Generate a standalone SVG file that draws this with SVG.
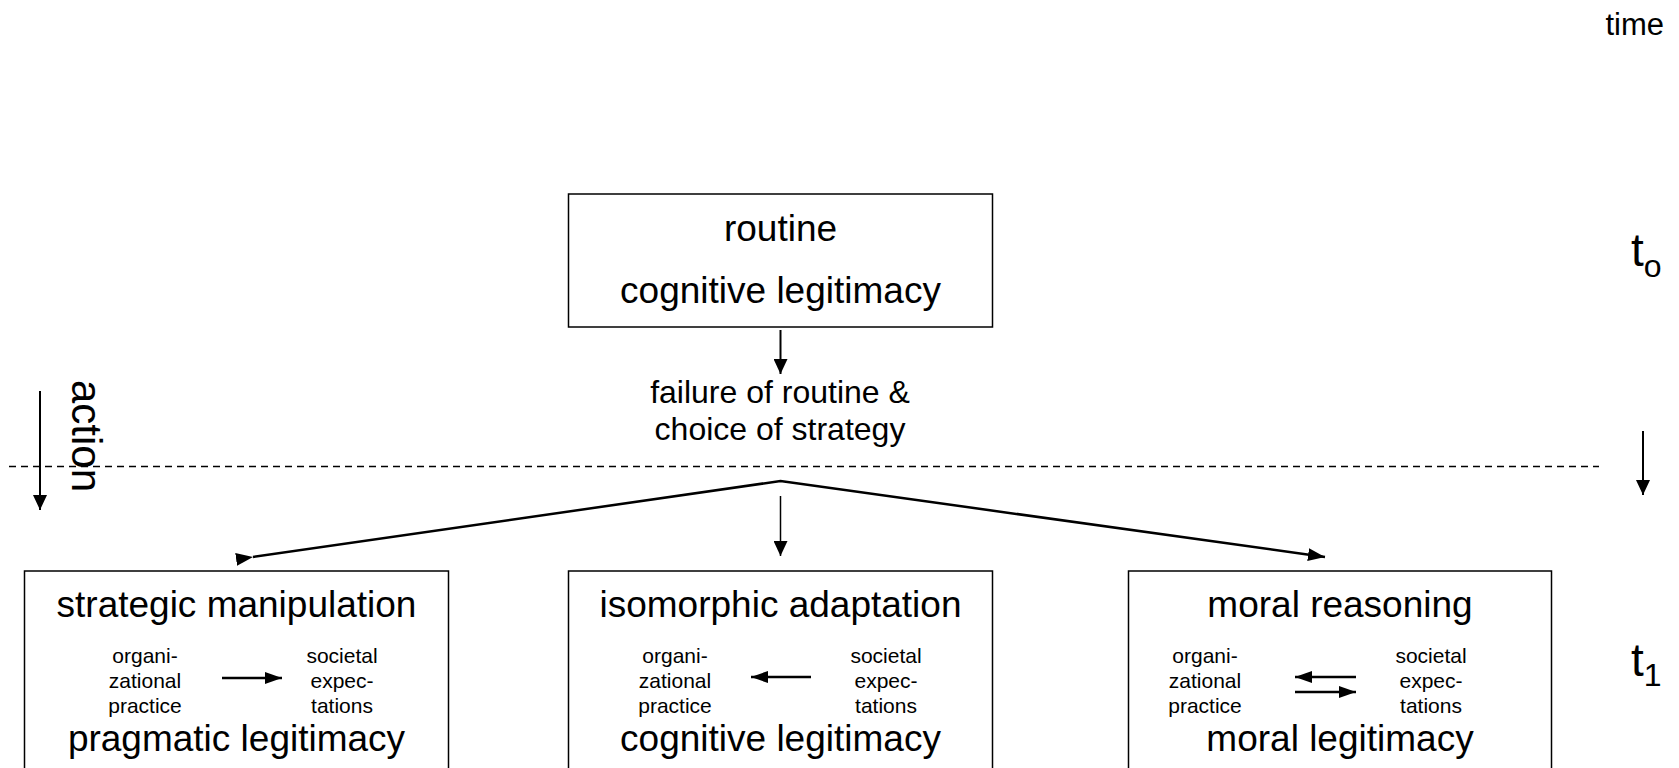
<svg xmlns="http://www.w3.org/2000/svg" width="1679" height="768" viewBox="0 0 1679 768">
<defs>
<marker id="ah" viewBox="0 0 15 14" refX="15" refY="7" markerWidth="15" markerHeight="14" markerUnits="userSpaceOnUse" orient="auto"><path d="M0,0 L15,7 L0,14 z" fill="#000"/></marker>
<marker id="ahd" viewBox="0 0 17 13" refX="17" refY="6.5" markerWidth="17" markerHeight="13" markerUnits="userSpaceOnUse" orient="auto"><path d="M0,0 L17,6.5 L0,13 z" fill="#000"/></marker>
<marker id="ahs" viewBox="0 0 17 12" refX="17" refY="6" markerWidth="17" markerHeight="12" markerUnits="userSpaceOnUse" orient="auto"><path d="M0,0 L17,6 L0,12 z" fill="#000"/></marker>
</defs>
<style>
text{font-family:"Liberation Sans",Arial,sans-serif;fill:#000}
.big{font-size:37px;text-anchor:middle}
.mid{font-size:32px;text-anchor:middle}
.sm{font-size:21px;text-anchor:middle}
.box{fill:#fff;stroke:#000;stroke-width:1.5}
.ln{stroke:#000;fill:none}
</style>
<rect width="1679" height="768" fill="#fff"/>

<g id="time-axis">
<text x="1664" y="35" style="font-size:31px" text-anchor="end">time</text>
<text x="1631" y="266" style="font-size:46px">t<tspan dy="11" style="font-size:32px">o</tspan></text>
<text x="1631" y="676" style="font-size:46px">t<tspan dy="10" style="font-size:32px">1</tspan></text>
</g>

<g id="action-label">
<text transform="translate(72,380) rotate(90)" style="font-size:42px">action</text>
</g>

<g id="routine">
<rect class="box" x="568.5" y="194" width="424" height="133"/>
<text class="big" x="780.5" y="241">routine</text>
<text class="big" x="780.5" y="303">cognitive legitimacy</text>
</g>

<g id="failure">
<text class="mid" x="780" y="403">failure of routine &amp;</text>
<text class="mid" x="780" y="440">choice of strategy</text>
</g>

<g id="strategic">
<rect class="box" x="24.5" y="571" width="424" height="220"/>
<text class="big" x="236.5" y="617">strategic manipulation</text>
<text class="sm" x="145" y="663">organi-</text>
<text class="sm" x="145" y="688">zational</text>
<text class="sm" x="145" y="713">practice</text>
<text class="sm" x="342" y="663">societal</text>
<text class="sm" x="342" y="688">expec-</text>
<text class="sm" x="342" y="713">tations</text>
<text class="big" x="236.5" y="751">pragmatic legitimacy</text>
</g>

<g id="isomorphic">
<rect class="box" x="568.5" y="571" width="424" height="220"/>
<text class="big" x="780.5" y="617">isomorphic adaptation</text>
<text class="sm" x="675" y="663">organi-</text>
<text class="sm" x="675" y="688">zational</text>
<text class="sm" x="675" y="713">practice</text>
<text class="sm" x="886" y="663">societal</text>
<text class="sm" x="886" y="688">expec-</text>
<text class="sm" x="886" y="713">tations</text>
<text class="big" x="780.5" y="751">cognitive legitimacy</text>
</g>

<g id="moral">
<rect class="box" x="1128.5" y="571" width="423" height="220"/>
<text class="big" x="1340" y="617">moral reasoning</text>
<text class="sm" x="1205" y="663">organi-</text>
<text class="sm" x="1205" y="688">zational</text>
<text class="sm" x="1205" y="713">practice</text>
<text class="sm" x="1431" y="663">societal</text>
<text class="sm" x="1431" y="688">expec-</text>
<text class="sm" x="1431" y="713">tations</text>
<text class="big" x="1340" y="751">moral legitimacy</text>
</g>

<g id="connectors">
<line class="ln" x1="9" y1="466.5" x2="1599" y2="466.5" stroke-width="1.5" stroke-dasharray="7 5"/>
<line class="ln" x1="40" y1="391" x2="40" y2="510" stroke-width="2" marker-end="url(#ah)"/>
<line class="ln" x1="1643" y1="431" x2="1643" y2="495" stroke-width="2" marker-end="url(#ah)"/>
<line class="ln" x1="780.5" y1="330" x2="780.5" y2="374" stroke-width="2" marker-end="url(#ah)"/>
<polyline class="ln" points="253,557 780.5,481 1325,557" stroke-width="2.5" marker-start="url(#ahd)" marker-end="url(#ahd)"/>
<line class="ln" x1="780.5" y1="496" x2="780.5" y2="556" stroke-width="1.5" marker-end="url(#ah)"/>
<line class="ln" x1="222" y1="678" x2="282" y2="678" stroke-width="2.5" marker-end="url(#ahs)"/>
<line class="ln" x1="811" y1="677" x2="751" y2="677" stroke-width="2.5" marker-end="url(#ahs)"/>
<line class="ln" x1="1356" y1="677" x2="1295" y2="677" stroke-width="2.5" marker-end="url(#ahs)"/>
<line class="ln" x1="1295" y1="692" x2="1356" y2="692" stroke-width="2.5" marker-end="url(#ahs)"/>
</g>
</svg>
